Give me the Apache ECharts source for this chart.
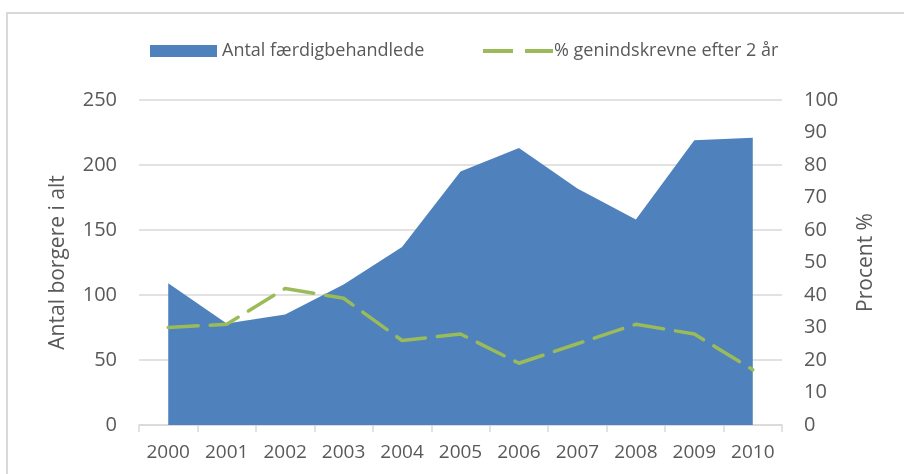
<!DOCTYPE html>
<html>
<head>
<meta charset="utf-8">
<script src="https://cdn.jsdelivr.net/npm/echarts@6/dist/echarts.min.js"></script>
<style>
html,body{margin:0;padding:0;background:#fff;}
#c{width:904px;height:474px;}
</style>
</head>
<body>
<div id="c"></div>
<script>
const years = ['2000','2001','2002','2003','2004','2005','2006','2007','2008','2009','2010'];
const antal = [109, 78, 85, 108, 137, 195, 213, 182, 158, 219, 221];
const procent = [30, 31, 42, 39, 26, 28, 19, 25, 31, 28, 17];
const leftTicks = [0, 50, 100, 150, 200, 250];
const rightTicks = [0, 10, 20, 30, 40, 50, 60, 70, 80, 90, 100];

const FONT = 'Open Sans';
const TXT = '#595959';
const chart = echarts.init(document.getElementById('c'));
chart.setOption({
  animation: false,
  backgroundColor: '#fff',
  textStyle: { fontFamily: FONT },
  graphic: [{
    type: 'rect', shape: { x: 7, y: 13, width: 1000, height: 600 },
    style: { fill: 'none', stroke: '#D9D9D9', lineWidth: 2 }, silent: true
  }],
  legend: [{
    data: [{ name: 'Antal færdigbehandlede', icon: 'rect' }],
    left: 145, top: 37, itemWidth: 67, itemHeight: 12, itemGap: 8,
    textStyle: { fontFamily: FONT, fontSize: 18, color: TXT }
  }, {
    data: [{ name: '% genindskrevne efter 2 år',
             icon: 'path://M0,0h30v4h-30z M42,0h28v4h-28z' }],
    left: 478, top: 37, itemWidth: 70, itemHeight: 4, itemGap: 8,
    itemStyle: { color: '#9BBB59', borderWidth: 0 },
    textStyle: { fontFamily: FONT, fontSize: 18, color: TXT, padding: [0,0,0,-4] }
  }],
  grid: { left: 139, right: 122, top: 100, bottom: 49, containLabel: false },
  xAxis: {
    type: 'category', data: years, boundaryGap: true,
    axisLine: { lineStyle: { color: '#D9D9D9', width: 1.5 } },
    axisTick: { show: true, length: 7, alignWithLabel: false, lineStyle: { color: '#D9D9D9', width: 1.5 } },
    axisLabel: { color: TXT, fontSize: 19, fontFamily: FONT, margin: 18 }
  },
  yAxis: [{
    type: 'value', min: 0, max: 250, interval: 50,
    name: 'Antal borgere i alt', nameLocation: 'middle', nameGap: 70,
    nameTextStyle: { color: TXT, fontSize: 21, fontFamily: FONT },
    axisLine: { show: false }, axisTick: { show: false },
    axisLabel: { color: TXT, fontSize: 20, fontFamily: FONT, margin: 22 },
    splitLine: { lineStyle: { color: '#D9D9D9', width: 1.5 } }
  }, {
    type: 'value', min: 0, max: 100, interval: 10,
    name: 'Procent %', nameLocation: 'middle', nameGap: 74,
    nameTextStyle: { color: TXT, fontSize: 21, fontFamily: FONT },
    axisLine: { show: false }, axisTick: { show: false },
    axisLabel: { color: TXT, fontSize: 20, fontFamily: FONT, margin: 22 },
    splitLine: { show: false }
  }],
  series: [{
    name: 'Antal færdigbehandlede', type: 'line', data: antal, yAxisIndex: 0,
    symbol: 'none', lineStyle: { width: 0, color: '#4F81BD' },
    itemStyle: { color: '#4F81BD' },
    areaStyle: { color: '#4F81BD', opacity: 1 }
  }, {
    name: '% genindskrevne efter 2 år', type: 'line', data: procent, yAxisIndex: 1,
    symbol: 'none', itemStyle: { color: '#9BBB59' },
    lineStyle: { color: '#9BBB59', width: 3.5, type: [30, 12], cap: 'round' }
  }]
});
</script>
</body>
</html>
